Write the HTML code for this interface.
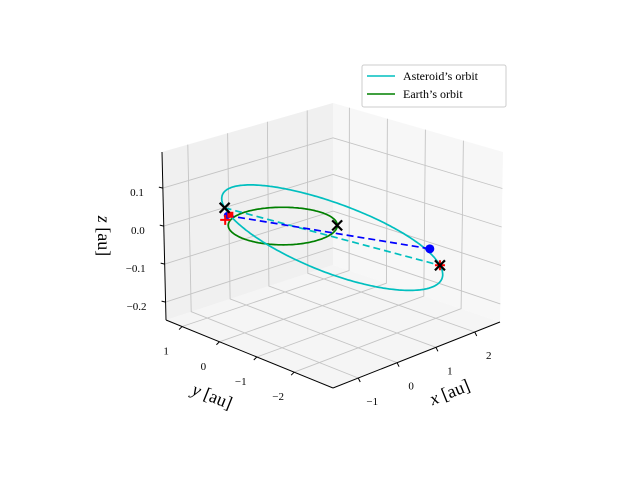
<!DOCTYPE html>
<html><head><meta charset="utf-8"><style>
body{margin:0;background:#fff;}
svg{display:block;font-family:"Liberation Serif","DejaVu Serif",serif;}
</style></head><body>
<svg id="chart" width="640" height="480" viewBox="0 0 640 480" xmlns="http://www.w3.org/2000/svg">
<g id="panes"></g>
<g id="grid"></g>
<g id="axes"></g>
<g id="series"></g>
<g id="legend">
  <rect x="362" y="65" width="144" height="42" rx="2" fill="#fff" fill-opacity="0.8" stroke="#ccc" stroke-width="1"/>
  <line x1="367" y1="76" x2="395" y2="76" stroke="#00bfbf" stroke-width="1.5"/>
  <text x="403" y="80" font-size="12">Asteroid’s orbit</text>
  <line x1="367" y1="94" x2="395" y2="94" stroke="#008000" stroke-width="1.5"/>
  <text x="403" y="98" font-size="12">Earth’s orbit</text>
</g>
<text x="450" y="398" font-size="18" text-anchor="middle" transform="rotate(-22 450 393)"><tspan font-style="italic">x</tspan> [au]</text>
<text x="212" y="402" font-size="18" text-anchor="middle" transform="rotate(22 212 397)"><tspan font-style="italic">y</tspan> [au]</text>
<text x="103" y="241" font-size="18" text-anchor="middle" transform="rotate(90 103 236)"><tspan font-style="italic">z</tspan> [au]</text>
</svg>
<script>
// axis limits and ticks
const xLim = [-1.65, 2.65];
const yLim = [-3.04, 1.43];
const zLim = [-0.247, 0.195];
const xTicks = [-1, 0, 1, 2];
const yTicks = [1, 0, -1, -2];
const zTicks = [0.1, 0.0, -0.1, -0.2];
const xTickLabels = ["−1", "0", "1", "2"];
const yTickLabels = ["1", "0", "−1", "−2"];
const zTickLabels = ["0.1", "0.0", "−0.1", "−0.2"];
// asteroid orbit: centre, semi-major vector, semi-minor vector (au)
const asteroidCenter = [0.66, -0.635, -0.0325];
const asteroidMajor = [1.41, -1.385, -0.0775];
const asteroidMinor = [0.33, 1.0, 0.07];
const earthRadius = 1.0;
// markers [x,y,z]
const blackXMarks = [[-0.75, 0.75, 0.045], [0.72, -0.69, 0.0], [2.07, -2.02, -0.11]];
const redPlusMarks = [[-0.56, 0.94, 0.0], [2.07, -2.02, -0.11]];
const redDots = [[-0.58, 0.78, 0.02]];
const blueSmall = [[-0.65, 0.79, 0.02]];
const blueCircle = [[2.27, -1.54, -0.09]];
const cyanDashed = [[-0.75, 0.75, 0.045], [2.07, -2.02, -0.11]];
const blueDashed = [[-0.65, 0.79, 0.02], [2.27, -1.54, -0.09]];

// screen corners of box [xi][yi][zi]
const C = {
  "000":[333,388],"100":[500,322],"010":[166,320],"110":[333,265],
  "001":[333,216],"101":[503,152],"011":[162,152],"111":[333,103]
};
function lerp(a,b,t){return [a[0]+(b[0]-a[0])*t, a[1]+(b[1]-a[1])*t];}
function proj(x,y,z){
  const tx=(x-xLim[0])/(xLim[1]-xLim[0]);
  const ty=(y-yLim[0])/(yLim[1]-yLim[0]);
  const tz=(z-zLim[0])/(zLim[1]-zLim[0]);
  const b0=lerp(lerp(C["000"],C["100"],tx),lerp(C["010"],C["110"],tx),ty);
  const b1=lerp(lerp(C["001"],C["101"],tx),lerp(C["011"],C["111"],tx),ty);
  return lerp(b0,b1,tz);
}
const NS="http://www.w3.org/2000/svg";
function mk(parent,tag,attrs){const e=document.createElementNS(NS,tag);for(const k in attrs)e.setAttribute(k,attrs[k]);parent.appendChild(e);return e;}
function pts(list){return list.map(p=>{const s=proj(p[0],p[1],p[2]);return s[0].toFixed(1)+","+s[1].toFixed(1);}).join(" ");}
const panes=document.getElementById('panes'),grid=document.getElementById('grid'),axes=document.getElementById('axes'),series=document.getElementById('series');
const [x0,x1]=xLim,[y0,y1]=yLim,[z0,z1]=zLim;
// panes
let p=mk(panes,'polygon',{points:pts([[x0,y0,z0],[x1,y0,z0],[x1,y1,z0],[x0,y1,z0]]),fill:'#f5f5f5',stroke:'none'});


p=mk(panes,'polygon',{points:pts([[x0,y1,z0],[x1,y1,z0],[x1,y1,z1],[x0,y1,z1]]),fill:'#f0f0f0',stroke:'none'});


p=mk(panes,'polygon',{points:pts([[x1,y0,z0],[x1,y1,z0],[x1,y1,z1],[x1,y0,z1]]),fill:'#f7f7f7',stroke:'none'});


// gridlines
const gs={fill:'none',stroke:'#c4c4c4','stroke-width':'0.9'};
xTicks.forEach(v=>{
  let g=mk(grid,'polyline',Object.assign({points:pts([[v,y0,z0],[v,y1,z0],[v,y1,z1]])},gs));
  
  
});
yTicks.forEach(v=>{
  let g=mk(grid,'polyline',Object.assign({points:pts([[x0,v,z0],[x1,v,z0],[x1,v,z1]])},gs));
  
  
});
zTicks.forEach(v=>{
  let g=mk(grid,'polyline',Object.assign({points:pts([[x0,y1,v],[x1,y1,v],[x1,y0,v]])},gs));
  
  
});
// axis lines
let a=mk(axes,'polyline',{points:pts([[x0,y0,z0],[x1,y0,z0]]),stroke:'#000','stroke-width':'1',fill:'none'});


a=mk(axes,'polyline',{points:pts([[x0,y0,z0],[x0,y1,z0]]),stroke:'#000','stroke-width':'1',fill:'none'});


a=mk(axes,'polyline',{points:pts([[x0,y1,z0],[x0,y1,z1]]),stroke:'#000','stroke-width':'1',fill:'none'});


// ticks and labels
function tickLabel(txt,x,y,anchor){const t=mk(axes,'text',{x:x,y:y,'font-size':'11','text-anchor':anchor||'middle'});t.textContent=txt;


}
xTicks.forEach((v,i)=>{
  const s=proj(v,y0,z0);
  const tk=mk(axes,'line',{x1:s[0],y1:s[1],x2:s[0]+2,y2:s[1]+4,stroke:'#000','stroke-width':'1'});
  
  
  tickLabel(xTickLabels[i],s[0]+14,s[1]+27);
});
yTicks.forEach((v,i)=>{
  const s=proj(x0,v,z0);
  const tk=mk(axes,'line',{x1:s[0],y1:s[1],x2:s[0]-3,y2:s[1]+3,stroke:'#000','stroke-width':'1'});
  
  
  tickLabel(yTickLabels[i],s[0]-16,s[1]+28);
});
zTicks.forEach((v,i)=>{
  const s=proj(x0,y1,v);
  const tk=mk(axes,'line',{x1:s[0],y1:s[1],x2:s[0]-4,y2:s[1]-1,stroke:'#000','stroke-width':'1'});
  
  
  tickLabel(zTickLabels[i],s[0]-19,s[1]+8,'end');
});
// orbits
const earthPts=[];
for(let k=0;k<=200;k++){const t=2*Math.PI*k/200;earthPts.push([earthRadius*Math.cos(t),earthRadius*Math.sin(t),0]);}
let e=mk(series,'polyline',{points:pts(earthPts),fill:'none',stroke:'#008000','stroke-width':'1.7'});


const astPts=[];
for(let k=0;k<=300;k++){
  const E=2*Math.PI*k/300,c=Math.cos(E),s=Math.sin(E);
  astPts.push([0,1,2].map(j=>asteroidCenter[j]+c*asteroidMajor[j]+s*asteroidMinor[j]));
}
e=mk(series,'polyline',{points:pts(astPts),fill:'none',stroke:'#00bfbf','stroke-width':'1.7'});


e=mk(series,'polyline',{points:pts(cyanDashed),fill:'none',stroke:'#00bfbf','stroke-width':'1.7','stroke-dasharray':'7,4'});


e=mk(series,'polyline',{points:pts(blueDashed),fill:'none',stroke:'#0000ff','stroke-width':'1.7','stroke-dasharray':'7,4'});


// markers
blueSmall.forEach(q=>{const s=proj(...q);const m=mk(series,'circle',{cx:s[0],cy:s[1],r:3.5,fill:'#0000ff'});

});
redDots.forEach(q=>{const s=proj(...q);const m=mk(series,'rect',{x:s[0]-3,y:s[1]-3,width:6,height:6,fill:'#ff0000'});

});
blueCircle.forEach(q=>{const s=proj(...q);const m=mk(series,'circle',{cx:s[0],cy:s[1],r:4.5,fill:'#0000ff'});

});
redPlusMarks.forEach(q=>{const s=proj(...q);const m=mk(series,'path',{d:`M${s[0]-5},${s[1]}h10M${s[0]},${s[1]-5}v10`,stroke:'#ff0000','stroke-width':'2',fill:'none'});

});
blackXMarks.forEach(q=>{const s=proj(...q);const m=mk(series,'path',{d:`M${s[0]-5},${s[1]-5}l10,10M${s[0]-5},${s[1]+5}l10,-10`,stroke:'#000','stroke-width':'2.2',fill:'none'});

});
</script>
</body></html>
